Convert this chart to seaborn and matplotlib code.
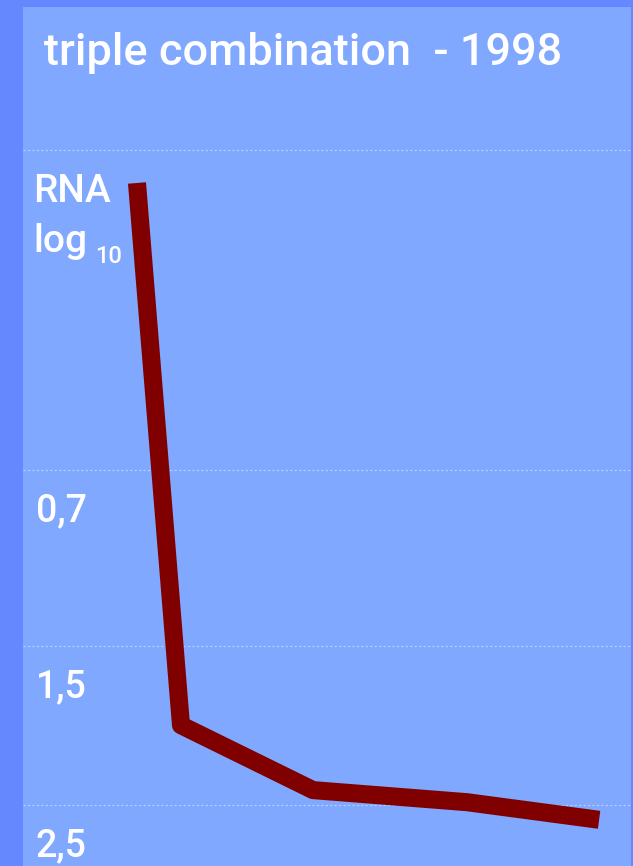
import seaborn as sns
import pandas as pd
import matplotlib.pyplot as plt
from matplotlib.transforms import offset_copy

sns.set_theme(style="dark", rc={"axes.spines.right": False, "axes.spines.top": False,
                                "axes.spines.left": False, "axes.spines.bottom": False})
plt.rcParams['font.family'] = ['Roboto', 'DejaVu Sans']
plt.rcParams['font.weight'] = 'medium'

# weeks of therapy and fall of HIV RNA (log10)
semanas = [0, 2, 8, 15, 21]
queda_rna = [-0.605, 1.86, 2.155, 2.21, 2.29]

grade = [-0.755, 0.7, 1.5, 2.223]
rotulos = ['0,7', '1,5', '2,5']
titulo = 'triple combination  - 1998'

df = pd.DataFrame({'Semana': semanas, 'Queda': queda_rna})

fig = plt.figure(figsize=(6.33, 8.66), dpi=100)
fig.set_facecolor('#6688FF')
ax = fig.add_axes([23 / 633, 0, 608 / 633, 859 / 866])
ax.set_facecolor('#80A8FF')

plot = sns.lineplot(data=df, x='Semana', y='Queda', ax=ax, color='#800000',
                    linewidth=13, solid_capstyle='butt', solid_joinstyle='round')

ax.set_xlim(-5.18, 22.45)
ax.set_ylim(2.5, -1.405)
ax.set_xticks([])
ax.set_yticks(grade)
ax.set_yticklabels([])
ax.tick_params(length=0)
ax.set_xlabel('')
ax.set_ylabel('')
ax.grid(True, axis='y', color='white', alpha=0.45, linestyle=(0, (2, 2)), linewidth=0.8)

# rotulos do eixo y dentro do grafico
trans = offset_copy(ax.transData, fig=fig, y=-51, units='dots')
for pos, txt in zip(grade[1:], rotulos):
    ax.text(-4.6, pos, txt, transform=trans, color='white', fontsize=27,
            va='baseline', ha='left')

fig.text(33 / 633, 1 - 202 / 866, 'RNA', color='white', fontsize=28, va='baseline')
fig.text(33 / 633, 1 - 252 / 866, 'log', color='white', fontsize=28, va='baseline')
fig.text(95 / 633, 1 - 263 / 866, '10', color='white', fontsize=17, va='baseline')

fig.text(44 / 633, 1 - 65 / 866, titulo, color='white', fontsize=32.5, va='baseline')

plt.savefig('out.png', dpi=100, facecolor=fig.get_facecolor())
plt.close()
